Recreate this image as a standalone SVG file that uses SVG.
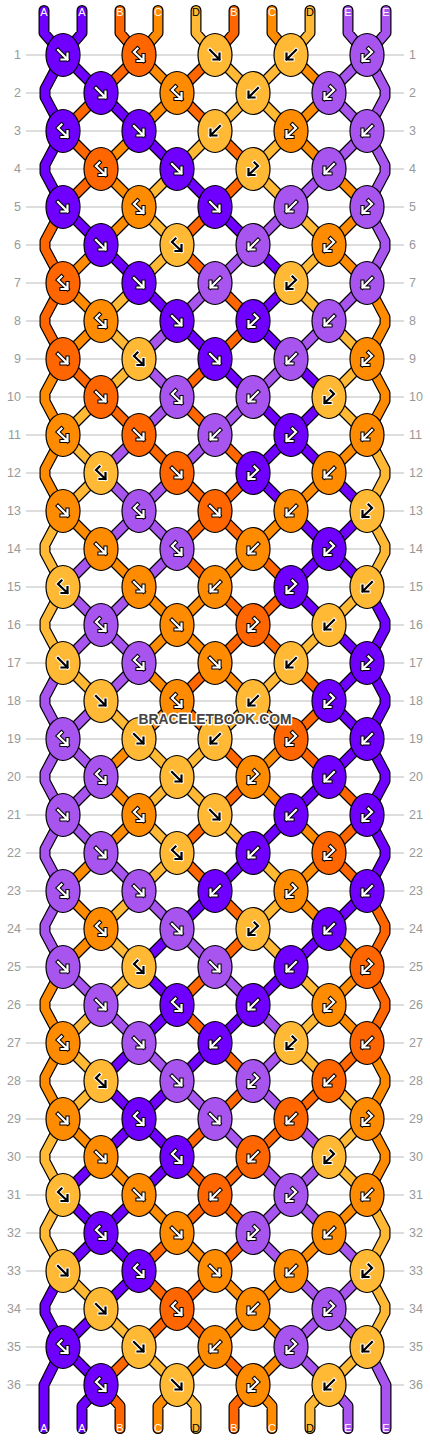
<svg xmlns="http://www.w3.org/2000/svg" xmlns:xlink="http://www.w3.org/1999/xlink" width="430" height="1440" viewBox="0 0 430 1440">
<style>
text{font-family:"Liberation Sans",Arial,sans-serif}
.n{font-size:12.5px;fill:#999}
.lb{font-size:11px;text-anchor:middle}
ellipse{rx:17px;ry:21.5px;stroke:#000;stroke-width:1.2}
.A{fill:#6f00ff}.B{fill:#ff6600}.C{fill:#ff8c00}.D{fill:#ffb935}.E{fill:#a855f0}
.w{stroke:#000;color:#fff}
.k{stroke:#fff;color:#000}
</style>
<defs>
<path id="pf" d="M-5,-5L4.5,4.5M4.5,-1.5V4.5H-1.5"/>
<path id="pb" d="M5,-5L-4.5,4.5M-4.5,-1.5V4.5H1.5"/>
<path id="pl" d="M-1.5,-6.5L-5,-3L4.5,6M4.5,0V6H-1.5"/>
<path id="pr" d="M1.5,-6.5L5,-3L-4.5,6M-4.5,0V6H1.5"/>
<g id="f" fill="none" stroke-linecap="square"><use href="#pf" stroke-width="4.2"/><use href="#pf" stroke="currentColor" stroke-width="2.2"/></g>
<g id="b" fill="none" stroke-linecap="square"><use href="#pb" stroke-width="4.2"/><use href="#pb" stroke="currentColor" stroke-width="2.2"/></g>
<g id="l" fill="none" stroke-linecap="square"><use href="#pl" stroke-width="4.2"/><use href="#pl" stroke="currentColor" stroke-width="2.2"/></g>
<g id="r" fill="none" stroke-linecap="square"><use href="#pr" stroke-width="4.2"/><use href="#pr" stroke="currentColor" stroke-width="2.2"/></g>
<path id="cA" d="M44,10.5V33L63,55M82,10.5V33L63,55M63,55L45,89V97L63,131M63,131L45,165V173L63,207M63,1271L45,1305V1313L63,1347M63,1347L44,1385V1428.5M367,587L385,621V629L367,663M367,663L385,697V705L367,739M367,739L385,773V781L367,815M367,815L385,849V857L367,891M101,1385L82,1406V1428.5M63,55l38,38M101,93l38,38M139,131l38,38M177,169l38,38M63,207l38,38M215,207l38,38M101,245l38,38M253,245l38,38M139,283l38,38M291,283l-38,38M177,321l38,38M253,321l38,38M215,359l38,38M291,359l38,38M253,397l38,38M329,397l-38,38M291,435l-38,38M291,435l38,38M253,473l38,38M329,473l38,38M291,511l38,38M367,511l-38,38M329,549l-38,38M329,549l38,38M291,587l38,38M329,625l38,38M367,663l-38,38M329,701l38,38M367,739l-38,38M329,777l-38,38M291,815l-38,38M253,853l-38,38M215,891l-38,38M367,891l-38,38M177,929l-38,38M329,929l-38,38M139,967l38,38M291,967l-38,38M177,1005l-38,38M253,1005l-38,38M139,1043l-38,38M215,1043l-38,38M101,1081l38,38M177,1081l-38,38M139,1119l-38,38M139,1119l38,38M101,1157l-38,38M177,1157l-38,38M63,1195l38,38M139,1195l-38,38M101,1233l-38,38M101,1233l38,38M139,1271l-38,38M101,1309l-38,38M63,1347l38,38"/>
<path id="cB" d="M120,10.5V33L139,55M234,10.5V33L215,55M63,207L45,241V249L63,283M63,283L45,317V325L63,359M367,891L385,925V933L367,967M367,967L385,1001V1009L367,1043M101,1385L120,1406V1428.5M253,1385L234,1406V1428.5M139,55l-38,38M215,55l-38,38M101,93l-38,38M177,93l38,38M63,131l38,38M215,131l38,38M101,169l-38,38M253,169l-38,38M215,207l-38,38M177,245l38,38M215,283l38,38M253,321l-38,38M63,359l38,38M215,359l-38,38M101,397l38,38M177,397l38,38M139,435l38,38M215,435l38,38M177,473l38,38M253,473l-38,38M215,511l-38,38M215,511l38,38M177,549l38,38M253,549l38,38M215,587l38,38M291,587l-38,38M253,625l-38,38M253,625l38,38M215,663l-38,38M291,663l38,38M177,701l38,38M329,701l-38,38M215,739l38,38M291,739l38,38M253,777l-38,38M329,777l38,38M215,815l-38,38M367,815l-38,38M177,853l38,38M329,853l38,38M215,891l38,38M253,929l-38,38M215,967l-38,38M177,1005l38,38M215,1043l38,38M367,1043l-38,38M253,1081l-38,38M329,1081l-38,38M215,1119l-38,38M291,1119l-38,38M177,1157l38,38M253,1157l-38,38M215,1195l-38,38M215,1195l38,38M177,1233l-38,38M253,1233l-38,38M139,1271l38,38M215,1271l-38,38M177,1309l-38,38M177,1309l38,38M139,1347l-38,38M215,1347l38,38"/>
<path id="cC" d="M158,10.5V33L139,55M272,10.5V33L291,55M63,359L45,393V401L63,435M63,435L45,469V477L63,511M63,967L45,1001V1009L63,1043M63,1043L45,1077V1085L63,1119M367,283L385,317V325L367,359M367,359L385,393V401L367,435M367,1043L385,1077V1085L367,1119M367,1119L385,1153V1161L367,1195M177,1385L158,1406V1428.5M253,1385L272,1406V1428.5M139,55l38,38M291,55l38,38M177,93l-38,38M329,93l-38,38M139,131l-38,38M291,131l38,38M101,169l38,38M329,169l38,38M139,207l-38,38M367,207l-38,38M101,245l-38,38M329,245l38,38M63,283l38,38M101,321l-38,38M367,435l-38,38M329,473l-38,38M63,511l38,38M291,511l-38,38M101,549l38,38M253,549l-38,38M139,587l38,38M215,587l-38,38M177,625l-38,38M177,625l38,38M139,663l38,38M215,663l38,38M177,701l-38,38M253,701l38,38M139,739l-38,38M291,739l-38,38M101,777l38,38M253,777l38,38M139,815l-38,38M291,815l38,38M101,853l-38,38M329,853l-38,38M63,891l38,38M291,891l38,38M101,929l-38,38M329,929l38,38M367,967l-38,38M329,1005l38,38M63,1119l38,38M101,1157l38,38M139,1195l38,38M367,1195l-38,38M177,1233l38,38M329,1233l-38,38M215,1271l38,38M291,1271l-38,38M253,1309l-38,38M253,1309l38,38M215,1347l-38,38M291,1347l-38,38"/>
<path id="cD" d="M196,10.5V33L215,55M310,10.5V33L291,55M63,511L45,545V553L63,587M63,587L45,621V629L63,663M63,1119L45,1153V1161L63,1195M63,1195L45,1229V1237L63,1271M367,435L385,469V477L367,511M367,511L385,545V553L367,587M367,1195L385,1229V1237L367,1271M367,1271L385,1305V1313L367,1347M177,1385L196,1406V1428.5M329,1385L310,1406V1428.5M215,55l38,38M291,55l-38,38M253,93l-38,38M253,93l38,38M215,131l-38,38M291,131l-38,38M177,169l-38,38M253,169l38,38M139,207l38,38M291,207l38,38M177,245l-38,38M329,245l-38,38M139,283l-38,38M291,283l38,38M101,321l38,38M329,321l38,38M139,359l-38,38M367,359l-38,38M101,397l-38,38M329,397l38,38M63,435l38,38M101,473l-38,38M367,587l-38,38M329,625l-38,38M63,663l38,38M291,663l-38,38M101,701l38,38M253,701l-38,38M139,739l38,38M215,739l-38,38M177,777l-38,38M177,777l38,38M139,815l38,38M215,815l38,38M177,853l-38,38M253,853l38,38M139,891l-38,38M291,891l-38,38M101,929l38,38M253,929l38,38M139,967l-38,38M291,967l38,38M101,1005l-38,38M329,1005l-38,38M63,1043l38,38M291,1043l38,38M101,1081l-38,38M329,1081l38,38M367,1119l-38,38M329,1157l38,38M63,1271l38,38M101,1309l38,38M139,1347l38,38M367,1347l-38,38"/>
<path id="cE" d="M348,10.5V33L367,55M386,10.5V33L367,55M63,663L45,697V705L63,739M63,739L45,773V781L63,815M63,815L45,849V857L63,891M63,891L45,925V933L63,967M367,55L385,89V97L367,131M367,131L385,165V173L367,207M367,207L385,241V249L367,283M367,1347L386,1385V1428.5M329,1385L348,1406V1428.5M367,55l-38,38M329,93l38,38M367,131l-38,38M329,169l-38,38M291,207l-38,38M253,245l-38,38M215,283l-38,38M367,283l-38,38M177,321l-38,38M329,321l-38,38M139,359l38,38M291,359l-38,38M177,397l-38,38M253,397l-38,38M139,435l-38,38M215,435l-38,38M101,473l38,38M177,473l-38,38M139,511l-38,38M139,511l38,38M101,549l-38,38M177,549l-38,38M63,587l38,38M139,587l-38,38M101,625l-38,38M101,625l38,38M139,663l-38,38M101,701l-38,38M63,739l38,38M101,777l-38,38M63,815l38,38M101,853l38,38M139,891l38,38M177,929l38,38M63,967l38,38M215,967l38,38M101,1005l38,38M253,1005l38,38M139,1043l38,38M291,1043l-38,38M177,1081l38,38M253,1081l38,38M215,1119l38,38M291,1119l38,38M253,1157l38,38M329,1157l-38,38M291,1195l-38,38M291,1195l38,38M253,1233l38,38M329,1233l38,38M291,1271l38,38M367,1271l-38,38M329,1309l-38,38M329,1309l38,38M291,1347l38,38"/>
</defs>
<rect width="430" height="1440" fill="#fff"/>
<g id="grid" stroke="#bbb" stroke-width="1">
<path d="M26,55H404M26,93H404M26,131H404M26,169H404M26,207H404M26,245H404M26,283H404M26,321H404M26,359H404M26,397H404M26,435H404M26,473H404M26,511H404M26,549H404M26,587H404M26,625H404M26,663H404M26,701H404M26,739H404M26,777H404M26,815H404M26,853H404M26,891H404M26,929H404M26,967H404M26,1005H404M26,1043H404M26,1081H404M26,1119H404M26,1157H404M26,1195H404M26,1233H404M26,1271H404M26,1309H404M26,1347H404M26,1385H404"/>
</g>
<g id="rownumbers" class="n">
<g text-anchor="end">
<text x="21" y="59">1</text><text x="21" y="97">2</text><text x="21" y="135">3</text><text x="21" y="173">4</text><text x="21" y="211">5</text><text x="21" y="249">6</text><text x="21" y="287">7</text><text x="21" y="325">8</text><text x="21" y="363">9</text><text x="21" y="401">10</text><text x="21" y="439">11</text><text x="21" y="477">12</text><text x="21" y="515">13</text><text x="21" y="553">14</text><text x="21" y="591">15</text><text x="21" y="629">16</text><text x="21" y="667">17</text><text x="21" y="705">18</text><text x="21" y="743">19</text><text x="21" y="781">20</text><text x="21" y="819">21</text><text x="21" y="857">22</text><text x="21" y="895">23</text><text x="21" y="933">24</text><text x="21" y="971">25</text><text x="21" y="1009">26</text><text x="21" y="1047">27</text><text x="21" y="1085">28</text><text x="21" y="1123">29</text><text x="21" y="1161">30</text><text x="21" y="1199">31</text><text x="21" y="1237">32</text><text x="21" y="1275">33</text><text x="21" y="1313">34</text><text x="21" y="1351">35</text><text x="21" y="1389">36</text>
</g>
<g>
<text x="409" y="59">1</text><text x="409" y="97">2</text><text x="409" y="135">3</text><text x="409" y="173">4</text><text x="409" y="211">5</text><text x="409" y="249">6</text><text x="409" y="287">7</text><text x="409" y="325">8</text><text x="409" y="363">9</text><text x="409" y="401">10</text><text x="409" y="439">11</text><text x="409" y="477">12</text><text x="409" y="515">13</text><text x="409" y="553">14</text><text x="409" y="591">15</text><text x="409" y="629">16</text><text x="409" y="667">17</text><text x="409" y="705">18</text><text x="409" y="743">19</text><text x="409" y="781">20</text><text x="409" y="819">21</text><text x="409" y="857">22</text><text x="409" y="895">23</text><text x="409" y="933">24</text><text x="409" y="971">25</text><text x="409" y="1009">26</text><text x="409" y="1047">27</text><text x="409" y="1085">28</text><text x="409" y="1123">29</text><text x="409" y="1161">30</text><text x="409" y="1199">31</text><text x="409" y="1237">32</text><text x="409" y="1275">33</text><text x="409" y="1313">34</text><text x="409" y="1351">35</text><text x="409" y="1389">36</text>
</g>
</g>
<g id="connectors" fill="none" stroke-linecap="round" stroke-linejoin="round">
<g stroke="#000" stroke-width="11"><use href="#cA"/><use href="#cB"/><use href="#cC"/><use href="#cD"/><use href="#cE"/></g>
<use href="#cA" stroke="#6f00ff" stroke-width="8.6"/>
<use href="#cB" stroke="#ff6600" stroke-width="8.6"/>
<use href="#cC" stroke="#ff8c00" stroke-width="8.6"/>
<use href="#cD" stroke="#ffb935" stroke-width="8.6"/>
<use href="#cE" stroke="#a855f0" stroke-width="8.6"/>
</g>
<g id="labels" class="lb">
<text x="44" y="16" fill="#fff">A</text><text x="82" y="16" fill="#fff">A</text><text x="120" y="16" fill="#fff">B</text><text x="158" y="16" fill="#fff">C</text><text x="196" y="16" fill="#000">D</text><text x="234" y="16" fill="#fff">B</text><text x="272" y="16" fill="#fff">C</text><text x="310" y="16" fill="#000">D</text><text x="348" y="16" fill="#fff">E</text><text x="386" y="16" fill="#fff">E</text>
<text x="44" y="1432" fill="#fff">A</text><text x="82" y="1432" fill="#fff">A</text><text x="120" y="1432" fill="#fff">B</text><text x="158" y="1432" fill="#fff">C</text><text x="196" y="1432" fill="#000">D</text><text x="234" y="1432" fill="#fff">B</text><text x="272" y="1432" fill="#fff">C</text><text x="310" y="1432" fill="#000">D</text><text x="348" y="1432" fill="#fff">E</text><text x="386" y="1432" fill="#fff">E</text>
</g>
<g id="knots">
<g id="k1-1"><ellipse class="A" cx="63" cy="55"/><use href="#f" x="63" y="55" class="w"/></g>
<g id="k1-2"><ellipse class="B" cx="139" cy="55"/><use href="#l" x="139" y="55" class="w"/></g>
<g id="k1-3"><ellipse class="D" cx="215" cy="55"/><use href="#f" x="215" y="55" class="k"/></g>
<g id="k1-4"><ellipse class="D" cx="291" cy="55"/><use href="#b" x="291" y="55" class="k"/></g>
<g id="k1-5"><ellipse class="E" cx="367" cy="55"/><use href="#r" x="367" y="55" class="w"/></g>
<g id="k2-1"><ellipse class="A" cx="101" cy="93"/><use href="#f" x="101" y="93" class="w"/></g>
<g id="k2-2"><ellipse class="C" cx="177" cy="93"/><use href="#l" x="177" y="93" class="w"/></g>
<g id="k2-3"><ellipse class="D" cx="253" cy="93"/><use href="#b" x="253" y="93" class="k"/></g>
<g id="k2-4"><ellipse class="E" cx="329" cy="93"/><use href="#r" x="329" y="93" class="w"/></g>
<g id="k3-1"><ellipse class="A" cx="63" cy="131"/><use href="#l" x="63" y="131" class="w"/></g>
<g id="k3-2"><ellipse class="A" cx="139" cy="131"/><use href="#f" x="139" y="131" class="w"/></g>
<g id="k3-3"><ellipse class="D" cx="215" cy="131"/><use href="#b" x="215" y="131" class="k"/></g>
<g id="k3-4"><ellipse class="C" cx="291" cy="131"/><use href="#r" x="291" y="131" class="w"/></g>
<g id="k3-5"><ellipse class="E" cx="367" cy="131"/><use href="#b" x="367" y="131" class="w"/></g>
<g id="k4-1"><ellipse class="B" cx="101" cy="169"/><use href="#l" x="101" y="169" class="w"/></g>
<g id="k4-2"><ellipse class="A" cx="177" cy="169"/><use href="#f" x="177" y="169" class="w"/></g>
<g id="k4-3"><ellipse class="D" cx="253" cy="169"/><use href="#r" x="253" y="169" class="k"/></g>
<g id="k4-4"><ellipse class="E" cx="329" cy="169"/><use href="#b" x="329" y="169" class="w"/></g>
<g id="k5-1"><ellipse class="A" cx="63" cy="207"/><use href="#f" x="63" y="207" class="w"/></g>
<g id="k5-2"><ellipse class="C" cx="139" cy="207"/><use href="#l" x="139" y="207" class="w"/></g>
<g id="k5-3"><ellipse class="A" cx="215" cy="207"/><use href="#f" x="215" y="207" class="w"/></g>
<g id="k5-4"><ellipse class="E" cx="291" cy="207"/><use href="#b" x="291" y="207" class="w"/></g>
<g id="k5-5"><ellipse class="E" cx="367" cy="207"/><use href="#r" x="367" y="207" class="w"/></g>
<g id="k6-1"><ellipse class="A" cx="101" cy="245"/><use href="#f" x="101" y="245" class="w"/></g>
<g id="k6-2"><ellipse class="D" cx="177" cy="245"/><use href="#l" x="177" y="245" class="k"/></g>
<g id="k6-3"><ellipse class="E" cx="253" cy="245"/><use href="#b" x="253" y="245" class="w"/></g>
<g id="k6-4"><ellipse class="C" cx="329" cy="245"/><use href="#r" x="329" y="245" class="w"/></g>
<g id="k7-1"><ellipse class="B" cx="63" cy="283"/><use href="#l" x="63" y="283" class="w"/></g>
<g id="k7-2"><ellipse class="A" cx="139" cy="283"/><use href="#f" x="139" y="283" class="w"/></g>
<g id="k7-3"><ellipse class="E" cx="215" cy="283"/><use href="#b" x="215" y="283" class="w"/></g>
<g id="k7-4"><ellipse class="D" cx="291" cy="283"/><use href="#r" x="291" y="283" class="k"/></g>
<g id="k7-5"><ellipse class="E" cx="367" cy="283"/><use href="#b" x="367" y="283" class="w"/></g>
<g id="k8-1"><ellipse class="C" cx="101" cy="321"/><use href="#l" x="101" y="321" class="w"/></g>
<g id="k8-2"><ellipse class="A" cx="177" cy="321"/><use href="#f" x="177" y="321" class="w"/></g>
<g id="k8-3"><ellipse class="A" cx="253" cy="321"/><use href="#r" x="253" y="321" class="w"/></g>
<g id="k8-4"><ellipse class="E" cx="329" cy="321"/><use href="#b" x="329" y="321" class="w"/></g>
<g id="k9-1"><ellipse class="B" cx="63" cy="359"/><use href="#f" x="63" y="359" class="w"/></g>
<g id="k9-2"><ellipse class="D" cx="139" cy="359"/><use href="#l" x="139" y="359" class="k"/></g>
<g id="k9-3"><ellipse class="A" cx="215" cy="359"/><use href="#f" x="215" y="359" class="w"/></g>
<g id="k9-4"><ellipse class="E" cx="291" cy="359"/><use href="#b" x="291" y="359" class="w"/></g>
<g id="k9-5"><ellipse class="C" cx="367" cy="359"/><use href="#r" x="367" y="359" class="w"/></g>
<g id="k10-1"><ellipse class="B" cx="101" cy="397"/><use href="#f" x="101" y="397" class="w"/></g>
<g id="k10-2"><ellipse class="E" cx="177" cy="397"/><use href="#l" x="177" y="397" class="w"/></g>
<g id="k10-3"><ellipse class="E" cx="253" cy="397"/><use href="#b" x="253" y="397" class="w"/></g>
<g id="k10-4"><ellipse class="D" cx="329" cy="397"/><use href="#r" x="329" y="397" class="k"/></g>
<g id="k11-1"><ellipse class="C" cx="63" cy="435"/><use href="#l" x="63" y="435" class="w"/></g>
<g id="k11-2"><ellipse class="B" cx="139" cy="435"/><use href="#f" x="139" y="435" class="w"/></g>
<g id="k11-3"><ellipse class="E" cx="215" cy="435"/><use href="#b" x="215" y="435" class="w"/></g>
<g id="k11-4"><ellipse class="A" cx="291" cy="435"/><use href="#r" x="291" y="435" class="w"/></g>
<g id="k11-5"><ellipse class="C" cx="367" cy="435"/><use href="#b" x="367" y="435" class="w"/></g>
<g id="k12-1"><ellipse class="D" cx="101" cy="473"/><use href="#l" x="101" y="473" class="k"/></g>
<g id="k12-2"><ellipse class="B" cx="177" cy="473"/><use href="#f" x="177" y="473" class="w"/></g>
<g id="k12-3"><ellipse class="A" cx="253" cy="473"/><use href="#r" x="253" y="473" class="w"/></g>
<g id="k12-4"><ellipse class="C" cx="329" cy="473"/><use href="#b" x="329" y="473" class="w"/></g>
<g id="k13-1"><ellipse class="C" cx="63" cy="511"/><use href="#f" x="63" y="511" class="w"/></g>
<g id="k13-2"><ellipse class="E" cx="139" cy="511"/><use href="#l" x="139" y="511" class="w"/></g>
<g id="k13-3"><ellipse class="B" cx="215" cy="511"/><use href="#f" x="215" y="511" class="w"/></g>
<g id="k13-4"><ellipse class="C" cx="291" cy="511"/><use href="#b" x="291" y="511" class="w"/></g>
<g id="k13-5"><ellipse class="D" cx="367" cy="511"/><use href="#r" x="367" y="511" class="k"/></g>
<g id="k14-1"><ellipse class="C" cx="101" cy="549"/><use href="#f" x="101" y="549" class="w"/></g>
<g id="k14-2"><ellipse class="E" cx="177" cy="549"/><use href="#l" x="177" y="549" class="w"/></g>
<g id="k14-3"><ellipse class="C" cx="253" cy="549"/><use href="#b" x="253" y="549" class="w"/></g>
<g id="k14-4"><ellipse class="A" cx="329" cy="549"/><use href="#r" x="329" y="549" class="w"/></g>
<g id="k15-1"><ellipse class="D" cx="63" cy="587"/><use href="#l" x="63" y="587" class="k"/></g>
<g id="k15-2"><ellipse class="C" cx="139" cy="587"/><use href="#f" x="139" y="587" class="w"/></g>
<g id="k15-3"><ellipse class="C" cx="215" cy="587"/><use href="#b" x="215" y="587" class="w"/></g>
<g id="k15-4"><ellipse class="A" cx="291" cy="587"/><use href="#r" x="291" y="587" class="w"/></g>
<g id="k15-5"><ellipse class="D" cx="367" cy="587"/><use href="#b" x="367" y="587" class="k"/></g>
<g id="k16-1"><ellipse class="E" cx="101" cy="625"/><use href="#l" x="101" y="625" class="w"/></g>
<g id="k16-2"><ellipse class="C" cx="177" cy="625"/><use href="#f" x="177" y="625" class="w"/></g>
<g id="k16-3"><ellipse class="B" cx="253" cy="625"/><use href="#r" x="253" y="625" class="w"/></g>
<g id="k16-4"><ellipse class="D" cx="329" cy="625"/><use href="#b" x="329" y="625" class="k"/></g>
<g id="k17-1"><ellipse class="D" cx="63" cy="663"/><use href="#f" x="63" y="663" class="k"/></g>
<g id="k17-2"><ellipse class="E" cx="139" cy="663"/><use href="#l" x="139" y="663" class="w"/></g>
<g id="k17-3"><ellipse class="C" cx="215" cy="663"/><use href="#f" x="215" y="663" class="w"/></g>
<g id="k17-4"><ellipse class="D" cx="291" cy="663"/><use href="#b" x="291" y="663" class="k"/></g>
<g id="k17-5"><ellipse class="A" cx="367" cy="663"/><use href="#r" x="367" y="663" class="w"/></g>
<g id="k18-1"><ellipse class="D" cx="101" cy="701"/><use href="#f" x="101" y="701" class="k"/></g>
<g id="k18-2"><ellipse class="C" cx="177" cy="701"/><use href="#l" x="177" y="701" class="w"/></g>
<g id="k18-3"><ellipse class="D" cx="253" cy="701"/><use href="#b" x="253" y="701" class="k"/></g>
<g id="k18-4"><ellipse class="A" cx="329" cy="701"/><use href="#r" x="329" y="701" class="w"/></g>
<g id="k19-1"><ellipse class="E" cx="63" cy="739"/><use href="#l" x="63" y="739" class="w"/></g>
<g id="k19-2"><ellipse class="D" cx="139" cy="739"/><use href="#f" x="139" y="739" class="k"/></g>
<g id="k19-3"><ellipse class="D" cx="215" cy="739"/><use href="#b" x="215" y="739" class="k"/></g>
<g id="k19-4"><ellipse class="B" cx="291" cy="739"/><use href="#r" x="291" y="739" class="w"/></g>
<g id="k19-5"><ellipse class="A" cx="367" cy="739"/><use href="#b" x="367" y="739" class="w"/></g>
<g id="k20-1"><ellipse class="E" cx="101" cy="777"/><use href="#l" x="101" y="777" class="w"/></g>
<g id="k20-2"><ellipse class="D" cx="177" cy="777"/><use href="#f" x="177" y="777" class="k"/></g>
<g id="k20-3"><ellipse class="C" cx="253" cy="777"/><use href="#r" x="253" y="777" class="w"/></g>
<g id="k20-4"><ellipse class="A" cx="329" cy="777"/><use href="#b" x="329" y="777" class="w"/></g>
<g id="k21-1"><ellipse class="E" cx="63" cy="815"/><use href="#f" x="63" y="815" class="w"/></g>
<g id="k21-2"><ellipse class="C" cx="139" cy="815"/><use href="#l" x="139" y="815" class="w"/></g>
<g id="k21-3"><ellipse class="D" cx="215" cy="815"/><use href="#f" x="215" y="815" class="k"/></g>
<g id="k21-4"><ellipse class="A" cx="291" cy="815"/><use href="#b" x="291" y="815" class="w"/></g>
<g id="k21-5"><ellipse class="A" cx="367" cy="815"/><use href="#r" x="367" y="815" class="w"/></g>
<g id="k22-1"><ellipse class="E" cx="101" cy="853"/><use href="#f" x="101" y="853" class="w"/></g>
<g id="k22-2"><ellipse class="D" cx="177" cy="853"/><use href="#l" x="177" y="853" class="k"/></g>
<g id="k22-3"><ellipse class="A" cx="253" cy="853"/><use href="#b" x="253" y="853" class="w"/></g>
<g id="k22-4"><ellipse class="B" cx="329" cy="853"/><use href="#r" x="329" y="853" class="w"/></g>
<g id="k23-1"><ellipse class="E" cx="63" cy="891"/><use href="#l" x="63" y="891" class="w"/></g>
<g id="k23-2"><ellipse class="E" cx="139" cy="891"/><use href="#f" x="139" y="891" class="w"/></g>
<g id="k23-3"><ellipse class="A" cx="215" cy="891"/><use href="#b" x="215" y="891" class="w"/></g>
<g id="k23-4"><ellipse class="C" cx="291" cy="891"/><use href="#r" x="291" y="891" class="w"/></g>
<g id="k23-5"><ellipse class="A" cx="367" cy="891"/><use href="#b" x="367" y="891" class="w"/></g>
<g id="k24-1"><ellipse class="C" cx="101" cy="929"/><use href="#l" x="101" y="929" class="w"/></g>
<g id="k24-2"><ellipse class="E" cx="177" cy="929"/><use href="#f" x="177" y="929" class="w"/></g>
<g id="k24-3"><ellipse class="D" cx="253" cy="929"/><use href="#r" x="253" y="929" class="k"/></g>
<g id="k24-4"><ellipse class="A" cx="329" cy="929"/><use href="#b" x="329" y="929" class="w"/></g>
<g id="k25-1"><ellipse class="E" cx="63" cy="967"/><use href="#f" x="63" y="967" class="w"/></g>
<g id="k25-2"><ellipse class="D" cx="139" cy="967"/><use href="#l" x="139" y="967" class="k"/></g>
<g id="k25-3"><ellipse class="E" cx="215" cy="967"/><use href="#f" x="215" y="967" class="w"/></g>
<g id="k25-4"><ellipse class="A" cx="291" cy="967"/><use href="#b" x="291" y="967" class="w"/></g>
<g id="k25-5"><ellipse class="B" cx="367" cy="967"/><use href="#r" x="367" y="967" class="w"/></g>
<g id="k26-1"><ellipse class="E" cx="101" cy="1005"/><use href="#f" x="101" y="1005" class="w"/></g>
<g id="k26-2"><ellipse class="A" cx="177" cy="1005"/><use href="#l" x="177" y="1005" class="w"/></g>
<g id="k26-3"><ellipse class="A" cx="253" cy="1005"/><use href="#b" x="253" y="1005" class="w"/></g>
<g id="k26-4"><ellipse class="C" cx="329" cy="1005"/><use href="#r" x="329" y="1005" class="w"/></g>
<g id="k27-1"><ellipse class="C" cx="63" cy="1043"/><use href="#l" x="63" y="1043" class="w"/></g>
<g id="k27-2"><ellipse class="E" cx="139" cy="1043"/><use href="#f" x="139" y="1043" class="w"/></g>
<g id="k27-3"><ellipse class="A" cx="215" cy="1043"/><use href="#b" x="215" y="1043" class="w"/></g>
<g id="k27-4"><ellipse class="D" cx="291" cy="1043"/><use href="#r" x="291" y="1043" class="k"/></g>
<g id="k27-5"><ellipse class="B" cx="367" cy="1043"/><use href="#b" x="367" y="1043" class="w"/></g>
<g id="k28-1"><ellipse class="D" cx="101" cy="1081"/><use href="#l" x="101" y="1081" class="k"/></g>
<g id="k28-2"><ellipse class="E" cx="177" cy="1081"/><use href="#f" x="177" y="1081" class="w"/></g>
<g id="k28-3"><ellipse class="E" cx="253" cy="1081"/><use href="#r" x="253" y="1081" class="w"/></g>
<g id="k28-4"><ellipse class="B" cx="329" cy="1081"/><use href="#b" x="329" y="1081" class="w"/></g>
<g id="k29-1"><ellipse class="C" cx="63" cy="1119"/><use href="#f" x="63" y="1119" class="w"/></g>
<g id="k29-2"><ellipse class="A" cx="139" cy="1119"/><use href="#l" x="139" y="1119" class="w"/></g>
<g id="k29-3"><ellipse class="E" cx="215" cy="1119"/><use href="#f" x="215" y="1119" class="w"/></g>
<g id="k29-4"><ellipse class="B" cx="291" cy="1119"/><use href="#b" x="291" y="1119" class="w"/></g>
<g id="k29-5"><ellipse class="C" cx="367" cy="1119"/><use href="#r" x="367" y="1119" class="w"/></g>
<g id="k30-1"><ellipse class="C" cx="101" cy="1157"/><use href="#f" x="101" y="1157" class="w"/></g>
<g id="k30-2"><ellipse class="A" cx="177" cy="1157"/><use href="#l" x="177" y="1157" class="w"/></g>
<g id="k30-3"><ellipse class="B" cx="253" cy="1157"/><use href="#b" x="253" y="1157" class="w"/></g>
<g id="k30-4"><ellipse class="D" cx="329" cy="1157"/><use href="#r" x="329" y="1157" class="k"/></g>
<g id="k31-1"><ellipse class="D" cx="63" cy="1195"/><use href="#l" x="63" y="1195" class="k"/></g>
<g id="k31-2"><ellipse class="C" cx="139" cy="1195"/><use href="#f" x="139" y="1195" class="w"/></g>
<g id="k31-3"><ellipse class="B" cx="215" cy="1195"/><use href="#b" x="215" y="1195" class="w"/></g>
<g id="k31-4"><ellipse class="E" cx="291" cy="1195"/><use href="#r" x="291" y="1195" class="w"/></g>
<g id="k31-5"><ellipse class="C" cx="367" cy="1195"/><use href="#b" x="367" y="1195" class="w"/></g>
<g id="k32-1"><ellipse class="A" cx="101" cy="1233"/><use href="#l" x="101" y="1233" class="w"/></g>
<g id="k32-2"><ellipse class="C" cx="177" cy="1233"/><use href="#f" x="177" y="1233" class="w"/></g>
<g id="k32-3"><ellipse class="E" cx="253" cy="1233"/><use href="#r" x="253" y="1233" class="w"/></g>
<g id="k32-4"><ellipse class="C" cx="329" cy="1233"/><use href="#b" x="329" y="1233" class="w"/></g>
<g id="k33-1"><ellipse class="D" cx="63" cy="1271"/><use href="#f" x="63" y="1271" class="k"/></g>
<g id="k33-2"><ellipse class="A" cx="139" cy="1271"/><use href="#l" x="139" y="1271" class="w"/></g>
<g id="k33-3"><ellipse class="C" cx="215" cy="1271"/><use href="#f" x="215" y="1271" class="w"/></g>
<g id="k33-4"><ellipse class="C" cx="291" cy="1271"/><use href="#b" x="291" y="1271" class="w"/></g>
<g id="k33-5"><ellipse class="D" cx="367" cy="1271"/><use href="#r" x="367" y="1271" class="k"/></g>
<g id="k34-1"><ellipse class="D" cx="101" cy="1309"/><use href="#f" x="101" y="1309" class="k"/></g>
<g id="k34-2"><ellipse class="B" cx="177" cy="1309"/><use href="#l" x="177" y="1309" class="w"/></g>
<g id="k34-3"><ellipse class="C" cx="253" cy="1309"/><use href="#b" x="253" y="1309" class="w"/></g>
<g id="k34-4"><ellipse class="E" cx="329" cy="1309"/><use href="#r" x="329" y="1309" class="w"/></g>
<g id="k35-1"><ellipse class="A" cx="63" cy="1347"/><use href="#l" x="63" y="1347" class="w"/></g>
<g id="k35-2"><ellipse class="D" cx="139" cy="1347"/><use href="#f" x="139" y="1347" class="k"/></g>
<g id="k35-3"><ellipse class="C" cx="215" cy="1347"/><use href="#b" x="215" y="1347" class="w"/></g>
<g id="k35-4"><ellipse class="E" cx="291" cy="1347"/><use href="#r" x="291" y="1347" class="w"/></g>
<g id="k35-5"><ellipse class="D" cx="367" cy="1347"/><use href="#b" x="367" y="1347" class="k"/></g>
<g id="k36-1"><ellipse class="A" cx="101" cy="1385"/><use href="#l" x="101" y="1385" class="w"/></g>
<g id="k36-2"><ellipse class="D" cx="177" cy="1385"/><use href="#f" x="177" y="1385" class="k"/></g>
<g id="k36-3"><ellipse class="C" cx="253" cy="1385"/><use href="#r" x="253" y="1385" class="w"/></g>
<g id="k36-4"><ellipse class="D" cx="329" cy="1385"/><use href="#b" x="329" y="1385" class="k"/></g>
</g>
<text id="watermark" x="215" y="724" text-anchor="middle" font-size="14" font-weight="bold" fill="#444" stroke="#fff" stroke-width="3" stroke-linejoin="round" paint-order="stroke" textLength="153" lengthAdjust="spacingAndGlyphs">BRACELETBOOK.COM</text>
</svg>
